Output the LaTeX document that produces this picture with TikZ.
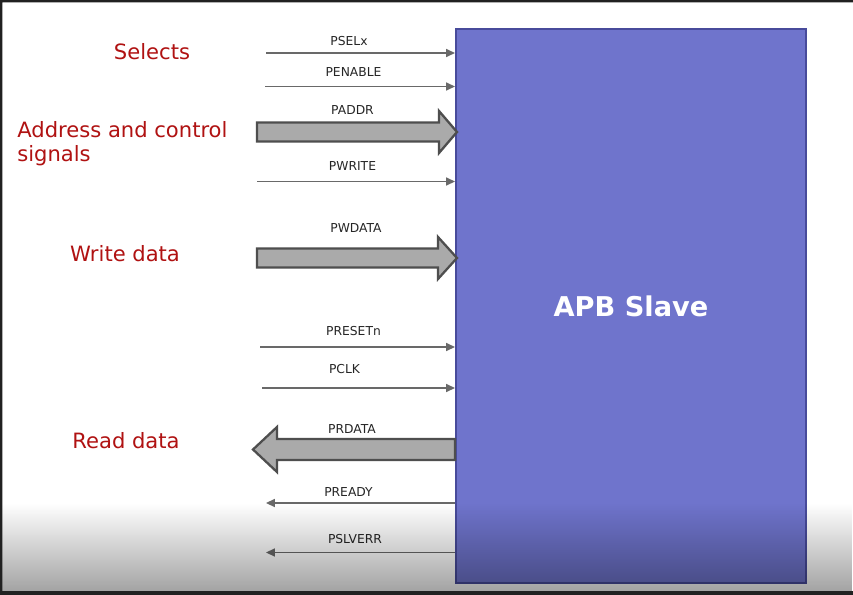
\documentclass[tikz,border=0pt]{standalone}
\usepackage{fontspec}
\setmainfont{DejaVu Sans}
\usepackage{tikz}
\usetikzlibrary{positioning,arrows.meta,fadings}
\definecolor{slaveblue}{RGB}{111,116,204}
\definecolor{slaveedge}{RGB}{72,75,155}
\definecolor{groupred}{RGB}{176,18,18}
\definecolor{wiregray}{RGB}{105,105,105}
\definecolor{busfill}{RGB}{170,170,170}
\definecolor{busedge}{RGB}{78,78,78}

\begin{document}
\begin{tikzpicture}[x=0.02cm, y=-0.02cm,
        slavebox/.style={draw=slaveedge, line width=1.2pt, fill=slaveblue,
                   minimum width=7cm, minimum height=11.08cm, inner sep=0pt,
                   text=white, font=\bfseries\fontsize{15.5}{18}\selectfont},
        grp/.style={text=groupred, font=\fontsize{12}{13.6}\selectfont, inner sep=0pt},
        sig/.style={font=\fontsize{7}{8}\selectfont, text=black!85, inner sep=0pt},
        wire/.style={draw=wiregray, line width=0.9pt, -{Triangle[length=5pt,width=4.5pt]}},
        bus/.style={draw=busedge, line width=1.3pt, fill=busfill, line join=miter}
      ]
        \useasboundingbox (0,0) rectangle (853,595);
        \fill[white] (0,0) rectangle (853,595);

        % the slave block
        \node[slavebox] (slave) at (631,306) {APB Slave};

        % group names
        \node[grp] (selects) at (152,52) {Selects};
        \node[grp, align=left, anchor=north west] (addrctl) at (17,121) {Address and control\\signals};
        \node[grp] (wrdata) at (125,254) {Write data};
        \node[grp] (rddata) at (126,441) {Read data};

        % single wires into the slave
        \coordinate (pselx) at (266,53);
        \coordinate (penable) at (265,86.5);
        \coordinate (pwrite) at (257,181.5);
        \coordinate (presetn) at (260,347);
        \coordinate (pclk) at (262,388);
        \draw[wire] (pselx) -- (pselx -| slave.west);
        \draw[wire] (penable) -- (penable -| slave.west);
        \draw[wire] (pwrite) -- (pwrite -| slave.west);
        \draw[wire] (presetn) -- (presetn -| slave.west);
        \draw[wire] (pclk) -- (pclk -| slave.west);

        % single wires out of the slave
        \coordinate (pready) at (266,503);
        \coordinate (pslverr) at (266,552.5);
        \draw[wire] (pready -| slave.west) -- (pready);
        \draw[wire] (pslverr -| slave.west) -- (pslverr);

        % buses
        \coordinate (paddr) at (457,132);
        \coordinate (pwdata) at (457,258);
        \coordinate (prdata) at (253,449.5);
        \draw[bus] (paddr) -- (439,153) -- (439,141.5) -- (257,141.5)
              -- (257,122.5) -- (439,122.5) -- (439,111) -- cycle;
        \draw[bus] (pwdata) -- (438,279) -- (438,267.5) -- (257,267.5)
              -- (257,248.5) -- (438,248.5) -- (438,237) -- cycle;
        \draw[bus] (prdata) -- (277,427) -- (277,439) -- (455,439)
              -- (455,460) -- (277,460) -- (277,472) -- cycle;

        % signal names
        \node[sig] (lpselx) at (349,41.5) {PSELx};
        \node[sig] (lpenable) at (353.5,72.5) {PENABLE};
        \node[sig] (lpaddr) at (352.5,110) {PADDR};
        \node[sig] (lpwrite) at (352.5,166) {PWRITE};
        \node[sig] (lpwdata) at (356,228.5) {PWDATA};
        \node[sig] (lpresetn) at (353.5,331) {PRESETn};
        \node[sig] (lpclk) at (344.5,369.5) {PCLK};
        \node[sig] (lprdata) at (352,429.5) {PRDATA};
        \node[sig] (lpready) at (348.5,492) {PREADY};
        \node[sig] (lpslverr) at (355,539.5) {PSLVERR};

        % grey shade at the bottom and the dark frame
        \fill[black, opacity=0.36, path fading=north] (0,503) rectangle (853,591);
        \fill[black!87] (0,0) rectangle (853,2.5) (0,0) rectangle (2.5,595)
              (0,591) rectangle (853,595);
      \end{tikzpicture}
\end{document}
